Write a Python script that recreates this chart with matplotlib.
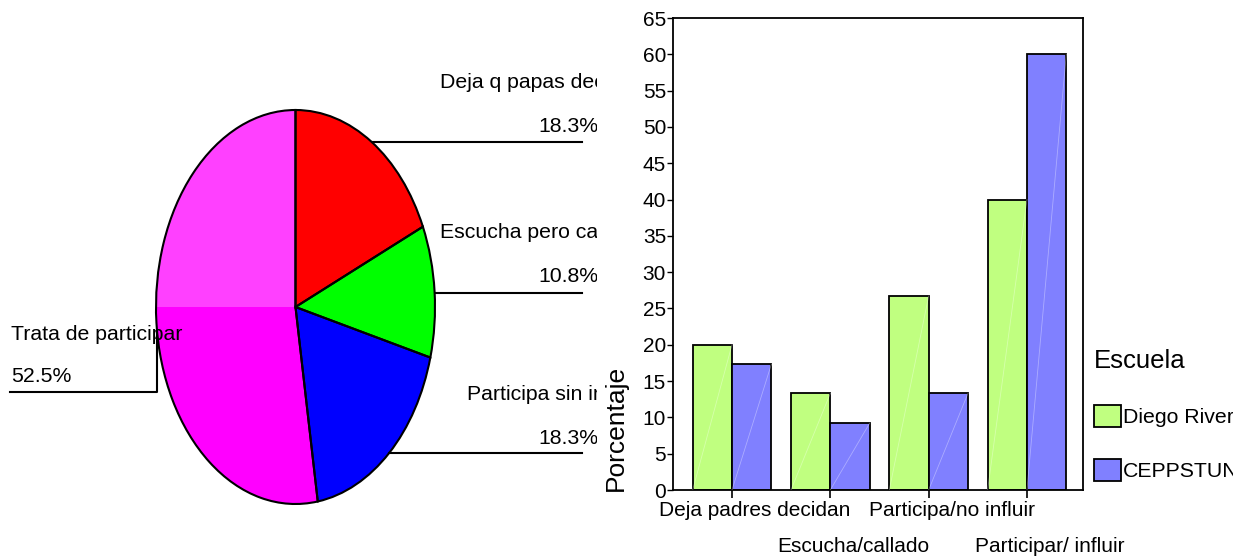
import numpy as np
import matplotlib
matplotlib.use("Agg")
import matplotlib.pyplot as plt
import matplotlib.transforms as mtransforms
from matplotlib.patches import Wedge

plt.rcParams['font.family'] = ['Liberation Sans', 'DejaVu Sans']

# pie data
pie_labels = ["Deja q papas deciden", "Escucha pero callado",
              "Participa sin influir", "Trata de participar"]
pie_pct = [18.3, 10.8, 18.3, 52.5]
pie_colors = ['#ff0000', '#00ff00', '#0000ff', '#ff00ff']

# bar data
categories = ["Deja padres decidan", "Escucha/callado",
              "Participa/no influir", "Participar/ influir"]
diego = [20.0, 13.3, 26.7, 40.0]
ceppstun = [17.3, 9.2, 13.3, 60.0]
series_names = ["Diego Rivera", "CEPPSTUN"]
yticks = list(range(0, 70, 5))

W, H = 1233, 557
fig = plt.figure(figsize=(W / 100, H / 100), dpi=100)

# ---------------- pie (ellipse) ----------------
CX, CY, RX, RY = 295.5, 307.0, 139.5, 197.0   # pixel layout of the ellipse
PIE_W = 597


def pdata(px, py):
    return (px - CX) / RX, (CY - py) / RY


ax1 = fig.add_axes([0, 0, PIE_W / W, 1])
ax1.pie(pie_pct, colors=pie_colors, startangle=90, counterclock=False,
        wedgeprops=dict(linewidth=0))
# lighter shading on the upper-left part of the big slice
ax1.add_patch(Wedge((0, 0), 1, 90, 180, facecolor='#ff40ff', edgecolor='none',
                    zorder=1.5))
ax1.pie(pie_pct, colors=['none'] * 4, startangle=90, counterclock=False,
        wedgeprops=dict(edgecolor='black', linewidth=1.5, zorder=2))
ax1.set_aspect('auto')
ax1.set_xlim(pdata(0, 0)[0], pdata(PIE_W, 0)[0])
ax1.set_ylim(pdata(0, H)[1], pdata(0, 0)[1])
ax1.axis('off')

# label layout: name pos, pct pos, leader line y (pixels)
lab_layout = [
    ((440, 83), (538, 127), 142),
    ((440, 233), (538, 277), 293),
    ((467, 395), (538, 438), 453),
    ((11, 335), (11, 377), 392),
]
for name, pct, (npos, ppos, ly) in zip(pie_labels, pie_pct, lab_layout):
    ax1.text(*pdata(*npos), name, fontsize=15.3, ha='left', va='center', clip_on=True)
    ax1.text(*pdata(*ppos), f"{pct:.1f}%", fontsize=15.3, ha='left', va='center',
             clip_on=True)
    if npos[0] > CX:
        yd = pdata(0, ly)[1]
        xr = np.sqrt(1 - yd ** 2)
        ax1.plot([xr, pdata(582, 0)[0]], [yd, yd], color='black', lw=1.5,
                 clip_on=False)
    else:
        x0, yd = pdata(10, ly)
        xv = pdata(157, 0)[0]
        yr = -np.sqrt(max(0.0, 1 - xv ** 2))
        ax1.plot([x0, xv, xv], [yd, yd, yr], color='black', lw=1.5, clip_on=False)

# ---------------- bars ----------------
L, R, T, B = 673, 1083, 18, 490
ax2 = fig.add_axes([L / W, 1 - B / H, (R - L) / W, (B - T) / H])
x = np.arange(len(categories))
bw = 0.40
b1 = ax2.bar(x, diego, width=-bw, align='edge', color='#c0ff80',
             edgecolor='black', linewidth=1.3, label=series_names[0], zorder=2)
b2 = ax2.bar(x, ceppstun, width=bw, align='edge', color='#8080ff',
             edgecolor='black', linewidth=1.3, label=series_names[1], zorder=2)
# faint diagonal streak inside every bar
for rect in list(b1) + list(b2):
    bb = rect.get_bbox()
    xs = sorted([bb.x0, bb.x1])
    ys = sorted([bb.y0, bb.y1])
    ax2.plot(xs, ys, color='white', lw=0.6, alpha=0.35, zorder=3)

ax2.set_xlim(-0.60, 3.57)
ax2.set_ylim(0, 65)
ax2.set_yticks(yticks)
ax2.tick_params(axis='y', direction='out', length=4, width=1, pad=1, labelsize=15)
ax2.set_xticks(x)
ax2.set_xticklabels([])
ax2.tick_params(axis='x', direction='out', length=6, width=1.2)
for sp in ax2.spines.values():
    sp.set_linewidth(1.3)

tb = mtransforms.blended_transform_factory(ax2.transData, ax2.transAxes)
for i, cat in enumerate(categories):
    dy = -21 if i % 2 == 0 else -56
    tr = mtransforms.offset_copy(tb, fig=fig, x=23, y=dy, units='dots')
    ax2.text(x[i], 0, cat, transform=tr, fontsize=15, ha='center', va='center')

fig.text(616 / W, 1 - 491 / H, "Porcentaje", rotation=90, fontsize=19,
         ha='center', va='bottom')

leg = ax2.legend(title="Escuela", loc='upper left',
                 bbox_to_anchor=(1094 / W, 1 - 349 / H),
                 bbox_transform=fig.transFigure, frameon=False, fontsize=15.3,
                 title_fontsize=18.5, borderpad=0, borderaxespad=0,
                 handlelength=1.25, handleheight=1.2, handletextpad=0.12,
                 labelspacing=1.5, alignment='left')
for p in leg.get_patches():
    p.set_linewidth(1.3)

fig.savefig("out.png", dpi=100)
